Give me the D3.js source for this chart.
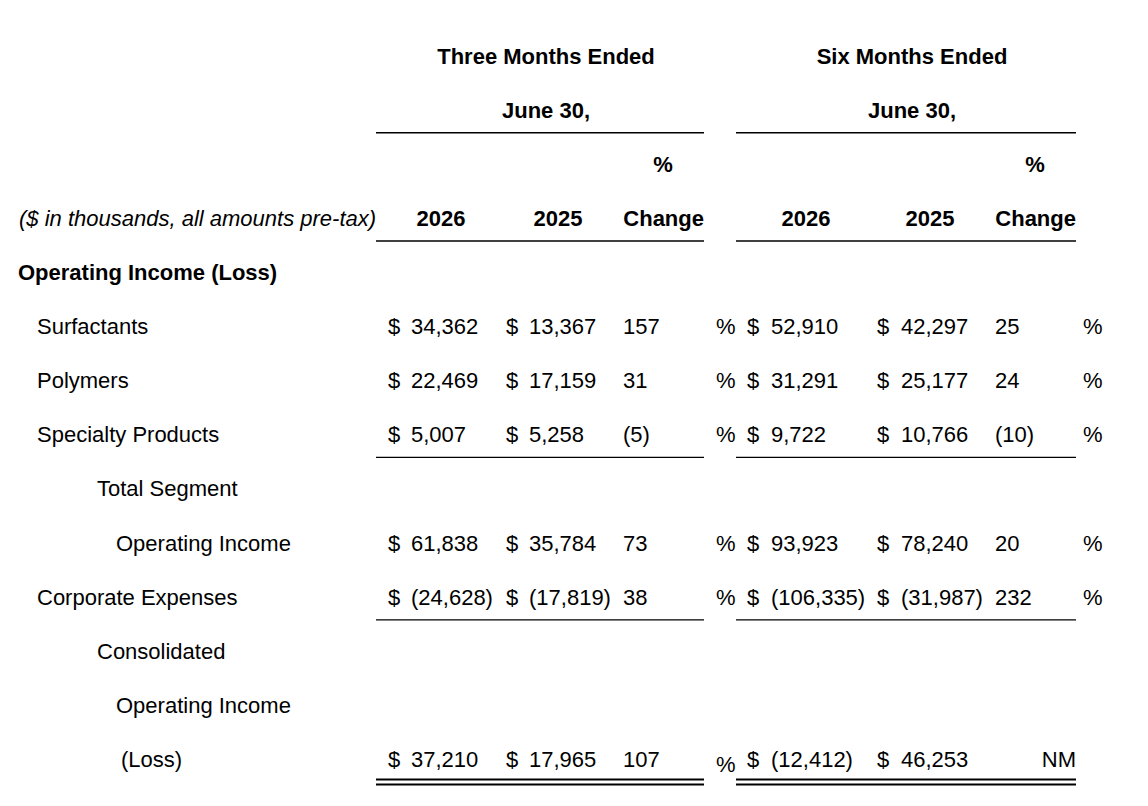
<!DOCTYPE html>
<html>
<head>
<meta charset="utf-8">
<script src="https://cdn.jsdelivr.net/npm/d3@7"></script>
<style>
  html, body { margin: 0; padding: 0; background: #fff; }
  svg text { font-family: "Liberation Sans", Arial, sans-serif; font-size: 22px; fill: #000; }
  .bold { font-weight: bold; }
  .ital { font-style: italic; }
</style>
</head>
<body>
<div id="table"></div>
<script>
// row labels, top to bottom, below the header block
const rowLabels = ['Operating Income (Loss)', 'Surfactants', 'Polymers', 'Specialty Products',
  'Total Segment', 'Operating Income', 'Corporate Expenses', 'Consolidated', 'Operating Income', '(Loss)'];
const rowLevel = [0, 1, 1, 1, 2, 3, 1, 2, 3, 4];

// values in thousands, null = no figure on that line
const q2026 = [null, 34362, 22469, 5007, null, 61838, -24628, null, null, 37210];
const q2025 = [null, 13367, 17159, 5258, null, 35784, -17819, null, null, 17965];
const qPct = [null, 157, 31, -5, null, 73, 38, null, null, 107];
const h2026 = [null, 52910, 31291, 9722, null, 93923, -106335, null, null, -12412];
const h2025 = [null, 42297, 25177, 10766, null, 78240, -31987, null, null, 46253];
const hPct = [null, 25, 24, -10, null, 20, 232, null, null, 'NM'];

const periodLabels = ['Three Months Ended', 'Six Months Ended'];
const dateLabel = 'June 30,';
const yearLabels = ['2026', '2025'];
const unitLabel = '($ in thousands, all amounts pre-tax)';

const width = 1148;
const height = 806;

const svg = d3.select('#table').append('svg')
  .attr('width', width)
  .attr('height', height);

// 4 header lines + 10 body lines
const y = d3.scalePoint()
  .domain(d3.range(14))
  .range([63.5, 767]);

// indent per label level
const indent = d3.scaleOrdinal()
  .domain([0, 1, 2, 3, 4])
  .range([18, 37, 97, 116, 121]);

// column anchors
const x = d3.scaleOrdinal()
  .domain(['q$1', 'q1', 'q$2', 'q2', 'qp', 'q%', 'h$1', 'h1', 'h$2', 'h2', 'hp', 'h%'])
  .range([388, 411, 506, 529, 623, 716, 747, 771, 877, 901, 995, 1083]);

// block extents for rules and headers
const block = d3.scaleOrdinal()
  .domain(['q', 'h'])
  .range([[376, 704], [736, 1076]]);

const center = d3.scaleOrdinal()
  .domain(['q', 'h', 'q1', 'q2', 'qp', 'h1', 'h2', 'hp'])
  .range([546, 912, 441, 558, 663, 806, 930, 1035]);

function fmt (v) {
  if (typeof v === 'string') return v;
  const s = d3.format(',')(Math.abs(v));
  return v < 0 ? '(' + s + ')' : s;
}

function text (xx, yy, str, cls, anchor) {
  svg.append('text')
    .attr('x', xx)
    .attr('y', yy)
    .attr('class', cls || null)
    .attr('text-anchor', anchor || 'start')
    .text(str);
}

// header
['q', 'h'].forEach((k, i) => {
  text(center(k), y(0), periodLabels[i], 'bold', 'middle');
  text(center(k), y(1), dateLabel, 'bold', 'middle');
  text(center(k + 'p'), y(2), '%', 'bold', 'middle');
  text(center(k + '1'), y(3), yearLabels[0], 'bold', 'middle');
  text(center(k + '2'), y(3), yearLabels[1], 'bold', 'middle');
  text(block(k)[1], y(3), 'Change', 'bold', 'end');
});
text(19, y(3), unitLabel, 'ital');

// body
rowLabels.forEach((label, i) => {
  const r = i + 4;
  text(indent(rowLevel[i]), y(r), label, i === 0 ? 'bold' : null);
  if (q2026[i] === null) return;

  const groups = [['q', q2026[i], q2025[i], qPct[i]], ['h', h2026[i], h2025[i], hPct[i]]];
  groups.forEach(g => {
    const k = g[0];
    text(x(k + '$1'), y(r), '$');
    text(x(k + '1'), y(r), fmt(g[1]));
    text(x(k + '$2'), y(r), '$');
    text(x(k + '2'), y(r), fmt(g[2]));
    if (typeof g[3] === 'string') {
      text(block(k)[1], y(r), g[3], null, 'end');
    } else {
      text(x(k + 'p'), y(r), fmt(g[3]));
      // the last percent sign sits a little lower in the source
      text(x(k + '%'), y(r) + (i === rowLabels.length - 1 ? 5 : 0), '%');
    }
  });
});

// rules: single under rows 1, 3, 7, 10; double under the last
const singleRules = [1, 3, 7, 10];
const step = y.step();

['q', 'h'].forEach(k => {
  const ext = block(k);
  svg.selectAll(null)
    .data(singleRules)
    .enter().append('line')
      .attr('x1', ext[0])
      .attr('x2', ext[1])
      .attr('y1', d => y(d) + step * 0.28)
      .attr('y2', d => y(d) + step * 0.28)
      .attr('stroke', '#000')
      .attr('stroke-width', 1.3);

  svg.selectAll(null)
    .data([0.231, 0.323])
    .enter().append('line')
      .attr('x1', ext[0])
      .attr('x2', ext[1])
      .attr('y1', d => y(13) + step * d)
      .attr('y2', d => y(13) + step * d)
      .attr('stroke', '#000')
      .attr('stroke-width', 2.2);
});
</script>
</body>
</html>
